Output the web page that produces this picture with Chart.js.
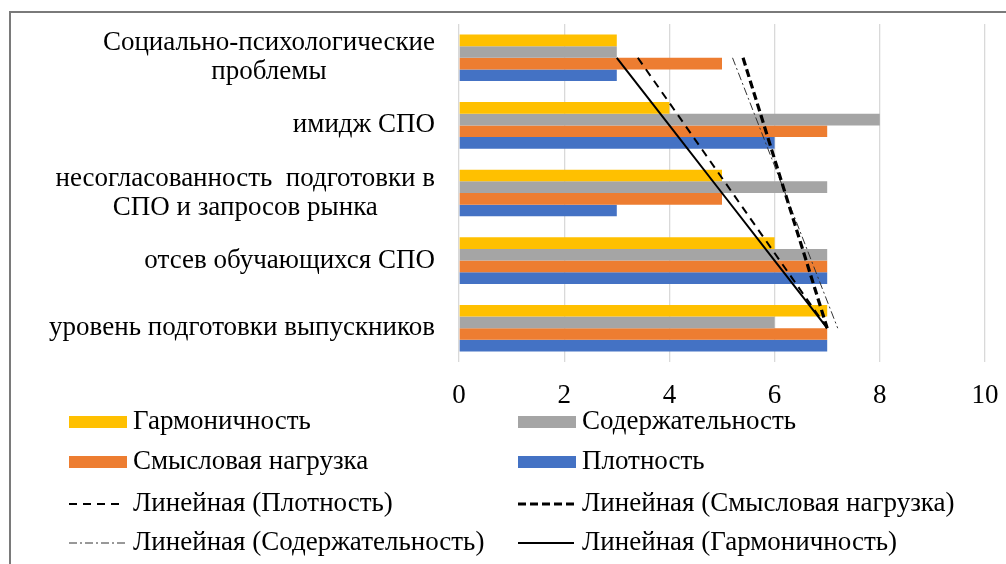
<!DOCTYPE html>
<html><head><meta charset="utf-8">
<script src="https://cdn.jsdelivr.net/npm/chart.js@4"></script>
<style>
html,body{margin:0;padding:0;background:#fff;}
#wrap{position:relative;width:1006px;height:564px;overflow:hidden;background:#fff;}
#frame{position:absolute;left:9px;top:11px;width:2000px;height:2000px;border-top:2px solid #7a7a7a;border-left:2px solid #7a7a7a;}
#c{position:absolute;left:0;top:0;}
</style></head><body>
<div id="wrap"><div id="frame"></div><canvas id="c" width="1006" height="564"></canvas></div>
<script>
// ---- data ----
const categories = [
  ['Социально-психологические', 'проблемы'],
  'имидж СПО',
  ['несогласованность  подготовки в', 'СПО и запросов рынка'],
  'отсев обучающихся СПО',
  'уровень подготовки выпускников'
];
const seriesNames = ['Гармоничность', 'Содержательность', 'Смысловая нагрузка', 'Плотность'];
const harmony = [3, 4, 5, 6, 7];
const content = [3, 8, 7, 7, 6];
const meaning = [5, 7, 5, 7, 7];
const density = [3, 6, 3, 7, 7];
const xTicks = [0, 2, 4, 6, 8, 10];
const trendPrefix = 'Линейная';

// ---- styles ----
const FONT = '"Liberation Serif", "Times New Roman", serif';
const colors = ['#FFC000', '#A5A5A5', '#ED7D31', '#4472C4'];

// least-squares linear trend evaluated at each category
function linearTrend(v) {
  const n = v.length;
  const xs = v.map((_, i) => i + 1);
  const mx = xs.reduce((a, b) => a + b, 0) / n;
  const my = v.reduce((a, b) => a + b, 0) / n;
  let num = 0, den = 0;
  xs.forEach((x, i) => { num += (x - mx) * (v[i] - my); den += (x - mx) * (x - mx); });
  const b = num / den, a = my - b * mx;
  return xs.map(x => a + b * x);
}

const barSeries = [harmony, content, meaning, density];
const datasets = barSeries.map((d, i) => ({
  type: 'bar', label: seriesNames[i], data: d, backgroundColor: colors[i],
  borderWidth: 0, categoryPercentage: 0.69, barPercentage: 1.0, order: 2
}));

const trendStyles = {
  'Плотность':          { width: 2,   dash: [8, 6] },
  'Смысловая нагрузка': { width: 3.2, dash: [8, 4] },
  'Содержательность':   { width: 1,   dash: [8, 3, 2, 3] },
  'Гармоничность':      { width: 2,   dash: [] }
};
const trendOrder = ['Плотность', 'Смысловая нагрузка', 'Содержательность', 'Гармоничность'];
trendOrder.forEach(name => {
  const idx = seriesNames.indexOf(name);
  const st = trendStyles[name];
  datasets.push({
    type: 'line', label: trendPrefix + ' (' + name + ')', data: linearTrend(barSeries[idx]),
    indexAxis: 'y', borderColor: name === 'Содержательность' ? '#333' : '#000',
    borderWidth: st.width, borderDash: st.dash, pointRadius: 0, tension: 0, fill: false, order: 1
  });
});

// custom category labels (centred lines, right-aligned block)
const catLabelPlugin = {
  id: 'catLabels',
  afterDraw(chart) {
    const ctx = chart.ctx, ys = chart.scales.y;
    ctx.save();
    ctx.font = '27px ' + FONT;
    ctx.fillStyle = '#000';
    ctx.textBaseline = 'middle';
    ctx.textAlign = 'center';
    const lh = 29;
    categories.forEach((lab, i) => {
      const lines = Array.isArray(lab) ? lab : [lab];
      const w = Math.max(...lines.map(l => ctx.measureText(l).width));
      const cx = 435 - w / 2;
      const cy = ys.getPixelForValue(i);
      lines.forEach((l, j) => ctx.fillText(l, cx, cy + (j - (lines.length - 1) / 2) * lh));
    });
    ctx.restore();
  }
};

// custom two-column legend
const legendPlugin = {
  id: 'legend2col',
  afterDraw(chart) {
    const ctx = chart.ctx;
    const items = [
      { label: seriesNames[0], color: colors[0] },
      { label: seriesNames[1], color: colors[1] },
      { label: seriesNames[2], color: colors[2] },
      { label: seriesNames[3], color: colors[3] },
      ...datasets.filter(d => d.type === 'line').map(d => ({ label: d.label, line: d }))
    ];
    const colX = [69, 518], rowY = [422, 462, 504, 543];
    ctx.save();
    ctx.font = '27px ' + FONT;
    ctx.textBaseline = 'middle';
    items.forEach((it, k) => {
      const x = colX[k % 2], y = rowY[Math.floor(k / 2)];
      if (it.color) {
        ctx.fillStyle = it.color;
        ctx.fillRect(x, y - 6, 58, 12);
      } else {
        ctx.strokeStyle = it.line.borderColor;
        ctx.lineWidth = it.line.borderWidth;
        ctx.setLineDash(it.line.borderDash);
        ctx.beginPath(); ctx.moveTo(x, y); ctx.lineTo(x + 56, y); ctx.stroke();
        ctx.setLineDash([]);
      }
      ctx.fillStyle = '#000';
      ctx.textAlign = 'left';
      ctx.fillText(it.label, x + 64, y);
    });
    ctx.restore();
  }
};

new Chart(document.getElementById('c'), {
  type: 'bar',
  data: { labels: categories, datasets },
  options: {
    indexAxis: 'y',
    responsive: false,
    animation: false,
    layout: { autoPadding: false, padding: { top: 24, right: 21, left: 0, bottom: 152 } },
    plugins: { legend: { display: false }, tooltip: { enabled: false } },
    scales: {
      x: {
        min: 0, max: 10,
        afterBuildTicks: s => { s.ticks = xTicks.map(v => ({ value: v })); },
        afterFit: s => { s.height = 50; s.paddingLeft = 0; s.paddingRight = 0; },
        grid: { color: '#d9d9d9', lineWidth: 1.3, drawTicks: false },
        border: { display: false },
        ticks: { font: { family: FONT, size: 27 }, color: '#000', padding: 18 }
      },
      y: {
        afterFit: s => { s.width = 459; s.paddingTop = 0; s.paddingBottom = 0; },
        grid: { display: false, drawTicks: false },
        border: { display: false },
        ticks: { display: false }
      }
    }
  },
  plugins: [catLabelPlugin, legendPlugin]
});
</script>
</body></html>
